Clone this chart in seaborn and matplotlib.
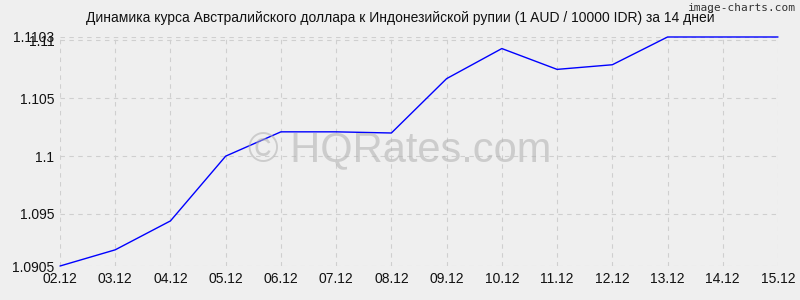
import matplotlib
matplotlib.use("Agg")
import matplotlib.pyplot as plt
import seaborn as sns
import pandas as pd

dates = ["02.12", "03.12", "04.12", "05.12", "06.12", "07.12", "08.12",
         "09.12", "10.12", "11.12", "12.12", "13.12", "14.12", "15.12"]
rates = [1.0905, 1.0919, 1.0944, 1.1000, 1.1021, 1.1021, 1.1020,
         1.1067, 1.1093, 1.1075, 1.1079, 1.1103, 1.1103, 1.1103]
y_ticks = [1.0905, 1.095, 1.1, 1.105, 1.11, 1.1103]
y_labels = ["1.0905", "1.095", "1.1", "1.105", "1.11", "1.1103"]
title = "Динамика курса Австралийского доллара к Индонезийской рупии (1 AUD / 10000 IDR) за 14 дней"

sns.set_style("whitegrid")
plt.rcParams['font.family'] = ['Liberation Sans', 'DejaVu Sans']

df = pd.DataFrame({"x": range(len(dates)), "rate": rates})

fig = plt.figure(figsize=(8, 3), dpi=100, facecolor="#efefef")
ax = fig.add_axes([0.075, 0.1133, 0.8975, 0.7634])
ax.set_facecolor("#efefef")

sns.lineplot(data=df, x="x", y="rate", ax=ax, color="#0000ff", linewidth=1)
for ln in ax.get_lines():
    ln.set_clip_on(False)
    ln.set_zorder(5)

ax.set_xlim(0, len(dates) - 1)
ax.set_ylim(1.0905, 1.1103)
ax.set_xticks(range(len(dates)))
ax.set_xticklabels(dates)
ax.set_yticks(y_ticks)
ax.set_yticklabels(y_labels)
ax.grid(True, color="#cfcfcf", linestyle=(0, (4, 4)), linewidth=0.8)
for s in ax.spines.values():
    s.set_visible(False)
ax.tick_params(axis="both", length=0, labelsize=10, colors="#111111", pad=4)
ax.set_xlabel("")
ax.set_ylabel("")

fig.text(0.5, 0.94, title, ha="center", va="center", fontsize=10, color="#111111")
fig.text(0.995, 0.972, "image-charts.com", ha="right", va="center", fontsize=8,
         color="#333333", family="DejaVu Sans Mono")
fig.text(0.5, 0.5, "© HQRates.com", ha="center", va="center", fontsize=30,
         color="#b0b0b0", alpha=0.55, zorder=0)

fig.savefig("out.png", dpi=100, facecolor=fig.get_facecolor())
